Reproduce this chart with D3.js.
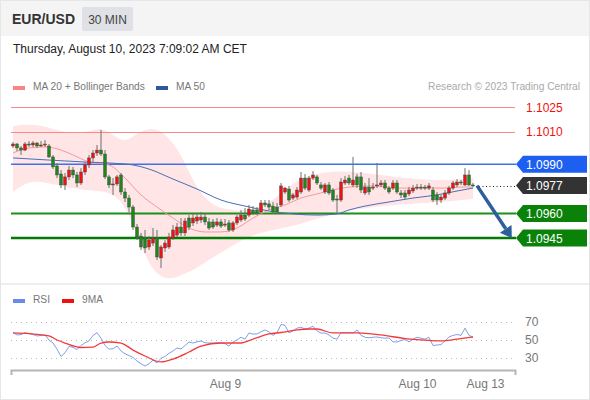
<!DOCTYPE html>
<html>
<head>
<meta charset="utf-8">
<script src="https://cdnjs.cloudflare.com/ajax/libs/d3/7.8.5/d3.min.js"></script>
<style>
  body { margin: 0; background: #fff; }
  svg { font-family: "Liberation Sans", Arial, sans-serif; display: block; }
</style>
</head>
<body>
<svg width="590" height="400"></svg>
<script>
// candles, 30 min, one per index (0 = Aug 8 ~09:30 CET)
var candleOpen = [1.10012,1.10024,1.10000,1.09987,1.10024,1.10018,1.10030,1.10012,1.10018,1.10012,
  1.09945,1.09890,1.09841,1.09774,1.09823,1.09865,1.09835,1.09786,1.09853,1.09896,
  1.09939,1.09969,1.09987,1.09963,1.09823,1.09774,1.09780,1.09835,1.09731,1.09694,
  1.09639,1.09517,1.09462,1.09450,1.09395,1.09419,1.09450,1.09328,1.09389,1.09395,
  1.09450,1.09468,1.09517,1.09481,1.09572,1.09542,1.09554,1.09560,1.09578,1.09548,
  1.09548,1.09529,1.09548,1.09529,1.09542,1.09499,1.09542,1.09560,1.09590,1.09590,
  1.09621,1.09621,1.09609,1.09664,1.09658,1.09645,1.09639,1.09652,1.09731,1.09749,
  1.09694,1.09700,1.09731,1.09816,1.09743,1.09816,1.09823,1.09774,1.09731,1.09774,
  1.09743,1.09688,1.09682,1.09786,1.09816,1.09774,1.09823,1.09823,1.09725,1.09761,
  1.09755,1.09768,1.09774,1.09786,1.09755,1.09755,1.09786,1.09725,1.09725,1.09719,
  1.09737,1.09755,1.09761,1.09761,1.09755,1.09743,1.09713,1.09682,1.09694,1.09725,
  1.09755,1.09774,1.09792,1.09774,1.09835,1.09774]
var candleHigh = [1.10036,1.10030,1.10012,1.10036,1.10042,1.10042,1.10036,1.10042,1.10048,1.10024,
  1.09957,1.09908,1.09865,1.09847,1.09890,1.09884,1.09853,1.09877,1.09914,1.09957,
  1.09987,1.10018,1.10110,1.09987,1.09835,1.09816,1.09835,1.09847,1.09755,1.09713,
  1.09652,1.09535,1.09481,1.09499,1.09462,1.09511,1.09499,1.09407,1.09438,1.09481,
  1.09529,1.09542,1.09572,1.09572,1.09590,1.09597,1.09603,1.09609,1.09597,1.09572,
  1.09566,1.09572,1.09566,1.09566,1.09560,1.09554,1.09590,1.09621,1.09633,1.09652,
  1.09645,1.09639,1.09682,1.09682,1.09682,1.09670,1.09664,1.09786,1.09761,1.09768,
  1.09725,1.09761,1.09853,1.09841,1.09829,1.09859,1.09835,1.09792,1.09786,1.09792,
  1.09755,1.09713,1.09816,1.09829,1.09835,1.09945,1.09841,1.09853,1.09786,1.09816,
  1.09786,1.09908,1.09804,1.09804,1.09768,1.09804,1.09804,1.09743,1.09743,1.09761,
  1.09774,1.09780,1.09780,1.09774,1.09786,1.09761,1.09731,1.09713,1.09743,1.09768,
  1.09798,1.09810,1.09804,1.09877,1.09865,1.09786]
var candleLow = [1.10000,1.09981,1.09957,1.09981,1.10006,1.10006,1.10000,1.10006,1.10006,1.09939,
  1.09871,1.09816,1.09755,1.09743,1.09804,1.09816,1.09761,1.09774,1.09835,1.09877,
  1.09914,1.09951,1.09951,1.09810,1.09755,1.09713,1.09768,1.09713,1.09670,1.09609,
  1.09499,1.09438,1.09377,1.09358,1.09377,1.09401,1.09316,1.09267,1.09365,1.09383,
  1.09438,1.09456,1.09462,1.09462,1.09499,1.09523,1.09535,1.09542,1.09529,1.09499,
  1.09505,1.09517,1.09511,1.09517,1.09487,1.09487,1.09529,1.09548,1.09554,1.09578,
  1.09590,1.09590,1.09597,1.09639,1.09621,1.09597,1.09597,1.09639,1.09719,1.09670,
  1.09682,1.09688,1.09719,1.09743,1.09731,1.09804,1.09774,1.09743,1.09719,1.09713,
  1.09670,1.09603,1.09670,1.09774,1.09774,1.09761,1.09755,1.09725,1.09713,1.09713,
  1.09743,1.09755,1.09761,1.09743,1.09719,1.09743,1.09719,1.09694,1.09688,1.09706,
  1.09725,1.09743,1.09743,1.09743,1.09743,1.09670,1.09652,1.09664,1.09682,1.09713,
  1.09743,1.09761,1.09774,1.09768,1.09768,1.09761]
var candleClose = [1.10024,1.10000,1.09987,1.10024,1.10018,1.10030,1.10012,1.10018,1.10024,1.09945,
  1.09884,1.09835,1.09774,1.09823,1.09865,1.09835,1.09786,1.09853,1.09896,1.09939,
  1.09969,1.09987,1.09963,1.09823,1.09774,1.09780,1.09823,1.09731,1.09694,1.09639,
  1.09517,1.09456,1.09395,1.09389,1.09438,1.09450,1.09334,1.09395,1.09419,1.09456,
  1.09499,1.09517,1.09481,1.09554,1.09517,1.09572,1.09578,1.09578,1.09548,1.09511,
  1.09517,1.09548,1.09523,1.09535,1.09499,1.09542,1.09578,1.09590,1.09566,1.09627,
  1.09603,1.09603,1.09664,1.09652,1.09639,1.09609,1.09609,1.09768,1.09755,1.09682,
  1.09713,1.09743,1.09816,1.09755,1.09816,1.09835,1.09786,1.09755,1.09774,1.09725,
  1.09682,1.09682,1.09792,1.09804,1.09786,1.09804,1.09774,1.09743,1.09761,1.09731,
  1.09761,1.09774,1.09786,1.09755,1.09731,1.09786,1.09731,1.09713,1.09700,1.09743,
  1.09755,1.09761,1.09758,1.09755,1.09768,1.09682,1.09682,1.09700,1.09725,1.09755,
  1.09786,1.09792,1.09786,1.09835,1.09774,1.09768]

// indicator lines, read at these candle indices
var ma20Idx = [0,4,8,12,15,19,24,28,32,36,40,44,48,52,56,60,64,68,72,76,80,84,90,96,102,108,112,115]
var ma20Val = [1.09969,1.10000,1.10006,1.09987,1.09957,1.09914,1.09896,1.09816,1.09713,1.09639,
  1.09572,1.09511,1.09487,1.09487,1.09511,1.09572,1.09621,1.09652,1.09694,1.09719,
  1.09743,1.09761,1.09768,1.09755,1.09755,1.09755,1.09761,1.09761]
var ma50Idx = [0,9,18,24,30,34,40,46,52,58,64,70,76,81,84,88,94,100,106,111,115]
var ma50Val = [1.09939,1.09926,1.09914,1.09908,1.09896,1.09871,1.09810,1.09749,1.09682,1.09645,
  1.09615,1.09597,1.09590,1.09597,1.09621,1.09645,1.09670,1.09694,1.09713,1.09737,1.09755]
var bandIdx = [0,4,9,13,18,22,25,28,31,34,37,40,42,44,46,49,53,58,62,66,70,74,80,86,92,98,104,110,115]
var bandUpper = [1.10134,1.10146,1.10128,1.10091,1.10091,1.10128,1.10079,1.10030,1.10091,1.10122,
  1.10110,1.10030,1.09957,1.09853,1.09755,1.09664,1.09621,1.09615,1.09639,1.09700,
  1.09786,1.09835,1.09859,1.09853,1.09835,1.09816,1.09804,1.09804,1.09816]
var bandLower = [1.09731,1.09804,1.09786,1.09761,1.09743,1.09737,1.09719,1.09652,1.09468,1.09285,
  1.09206,1.09200,1.09224,1.09242,1.09267,1.09316,1.09377,1.09450,1.09481,1.09505,
  1.09523,1.09554,1.09597,1.09627,1.09645,1.09658,1.09664,1.09676,1.09688]

// RSI, one per candle, and its 9 period average read at a few indices
var rsiVal = [58,55.5,56,58,57,56,54.4,55,55.5,50,
  46.7,40,32,36,43,42,39.5,44,47,49,
  55,58,52,44,40,40.5,43.4,38,35,33,
  31,27,24,21.6,24,28,25,30,32,35.5,
  38,41.3,40.2,44,47.8,46.7,48,48.9,47,46.7,
  46.7,47,46.7,46,43.4,48,50,53,51,57.7,
  56.5,56.6,59,61,59,55,58,67,66,57.7,
  60,63,64,62,63,65,60,57.5,57.7,55.5,
  52,51,58,57.7,58,57.7,61,55,53,52.5,
  53,53.3,52.5,52,52.2,48,47.8,49.5,50.5,48,
  51,53,52,51,53,44,44.5,45,49,53.3,
  55,56,55,63,55,53.3]
var rsiMaIdx = [0,4,9,11,13,17,20,22,24,27,30,33,37,40,44,47,52,57,60,64,67,71,74,76,80,86,92,98,104,107,111,115]
var rsiMaVal = [57.7,57,54.4,50,46.7,41.8,42.3,46.7,47.8,46.7,39,32.5,26,29.2,36.9,43.4,
  46.7,46.7,51,56.6,58.2,61,62,62,57.7,57.7,55.5,51.6,49.5,49,51,53.3]
var rsiTicks = [70, 50, 30]

// key levels and x axis labels
var resistLevels = [1.1025, 1.1010]
var pivotLevel = 1.0990
var lastPrice = 1.0977
var supportLevels = [1.0960, 1.0945]
var dayTicks = [53, 101, 118]
var dayLabels = ["Aug 9", "Aug 10", "Aug 13"]

var svg = d3.select("svg")

var xScale = d3.scaleLinear()
    .domain([-0.5, 125.5])
    .range([11, 515])

var yScale = d3.scaleLinear()
    .domain([1.0945, 1.1025])
    .range([238, 107])

var rsiScale = d3.scaleLinear()
    .domain([30, 70])
    .range([358.3, 321.7])

var fmt = d3.format(".4f")

// snap a horizontal line to the pixel grid
var crisp = function (y) {
    return Math.round(y) + 0.5
}

var drawFrame = function () {
    svg.append("rect")
        .attr("x", 0.5).attr("y", 0.5)
        .attr("width", 589).attr("height", 399)
        .attr("fill", "#fff")
        .attr("stroke", "#e6e6e6")
    svg.append("rect")
        .attr("x", 1).attr("y", 1)
        .attr("width", 588).attr("height", 35)
        .attr("fill", "#f4f4f4")
    svg.append("text")
        .text("EUR/USD")
        .attr("x", 12).attr("y", 24)
        .attr("font-size", 14)
        .attr("font-weight", "bold")
        .attr("fill", "#333")
    svg.append("rect")
        .attr("x", 82).attr("y", 7)
        .attr("width", 51).attr("height", 24)
        .attr("rx", 2)
        .attr("fill", "#dfe1e6")
    svg.append("text")
        .text("30 MIN")
        .attr("x", 107.5).attr("y", 24)
        .attr("text-anchor", "middle")
        .attr("font-size", 12)
        .attr("fill", "#444")
    svg.append("text")
        .text("Thursday, August 10, 2023 7:09:02 AM CET")
        .attr("x", 13).attr("y", 53)
        .attr("font-size", 12)
        .attr("fill", "#222")
    // panel separator
    svg.append("rect")
        .attr("x", 1).attr("y", 283)
        .attr("width", 588).attr("height", 2)
        .attr("fill", "#eeeeee")
}

var drawLegend = function (items, y) {
    var g = svg.append("g")
    items.forEach(function (item) {
        g.append("rect")
            .attr("x", item.x).attr("y", y - 4)
            .attr("width", 12).attr("height", 4)
            .attr("fill", item.color)
        g.append("text")
            .text(item.label)
            .attr("x", item.x + 20).attr("y", y)
            .attr("font-size", 10.2)
            .attr("fill", "#777")
    })
}

var drawBands = function () {
    var pts = bandIdx.map(function (d, i) {
        return { i: d, hi: bandUpper[i], lo: bandLower[i] }
    })
    var area = d3.area()
        .x(function (p) { return xScale(p.i) })
        .y0(function (p) { return yScale(p.lo) })
        .y1(function (p) { return yScale(p.hi) })
        .curve(d3.curveBasis)
    svg.append("path")
        .datum(pts)
        .attr("d", area)
        .attr("fill", "#ffe1e1")
        .attr("opacity", 0.85)
}

var drawLevels = function () {
    var g = svg.append("g")
    resistLevels.forEach(function (v) {
        g.append("line")
            .attr("x1", 11).attr("x2", 515)
            .attr("y1", crisp(yScale(v))).attr("y2", crisp(yScale(v)))
            .attr("stroke", "#f88a8a").attr("stroke-width", 1)
        g.append("text")
            .text(fmt(v))
            .attr("x", 526).attr("y", yScale(v) + 4.5)
            .attr("font-size", 12)
            .attr("fill", "#f01010")
    })
    g.append("line")
        .attr("x1", 11).attr("x2", 516)
        .attr("y1", yScale(pivotLevel)).attr("y2", yScale(pivotLevel))
        .attr("stroke", "#3f72e8").attr("stroke-width", 1.5)
    supportLevels.forEach(function (v, i) {
        g.append("line")
            .attr("x1", 11).attr("x2", 516)
            .attr("y1", yScale(v)).attr("y2", yScale(v))
            .attr("stroke", i == 0 ? "#1a8f1a" : "#007d00")
            .attr("stroke-width", i == 0 ? 2 : 2.5)
    })
    g.append("line")
        .attr("x1", xScale(116.5)).attr("x2", 515)
        .attr("y1", crisp(yScale(lastPrice))).attr("y2", crisp(yScale(lastPrice)))
        .attr("stroke", "#222").attr("stroke-width", 1)
        .attr("stroke-dasharray", "1,2.5")
}

var drawTag = function (v, color) {
    var y = yScale(v)
    var tag = svg.append("g")
        .attr("transform", "translate(0," + y + ")")
    tag.append("path")
        .attr("d", "M516,0 L523,-8.5 L587,-8.5 L587,8.5 L523,8.5 Z")
        .attr("fill", color)
    tag.append("text")
        .text(fmt(v))
        .attr("x", 526).attr("y", 4.5)
        .attr("font-size", 12)
        .attr("fill", "#fff")
}

var drawMovingAverages = function () {
    var line = d3.line()
        .x(function (p) { return xScale(p[0]) })
        .y(function (p) { return yScale(p[1]) })
        .curve(d3.curveMonotoneX)
    svg.append("path")
        .datum(ma20Idx.map(function (d, i) { return [d, ma20Val[i]] }))
        .attr("d", line)
        .attr("fill", "none")
        .attr("stroke", "#f59a9a")
        .attr("stroke-width", 1)
    svg.append("path")
        .datum(ma50Idx.map(function (d, i) { return [d, ma50Val[i]] }))
        .attr("d", line)
        .attr("fill", "none")
        .attr("stroke", "#4a6fb8")
        .attr("stroke-width", 1)
}

var drawCandles = function () {
    var data = candleClose.map(function (c, i) {
        return { i: i, o: candleOpen[i], h: candleHigh[i], l: candleLow[i], c: c }
    })
    var g = svg.append("g")
        .selectAll("g")
        .data(data)
        .enter()
        .append("g")
    g.append("line")
        .attr("x1", function (d) { return xScale(d.i) })
        .attr("x2", function (d) { return xScale(d.i) })
        .attr("y1", function (d) { return yScale(d.h) })
        .attr("y2", function (d) { return yScale(d.l) })
        .attr("stroke", "#6e6e6e")
        .attr("stroke-width", 1)
    g.append("rect")
        .attr("x", function (d) { return xScale(d.i) - 1.5 })
        .attr("width", 3)
        .attr("y", function (d) { return yScale(Math.max(d.o, d.c)) })
        .attr("height", function (d) {
            return Math.max(1, Math.abs(yScale(d.o) - yScale(d.c)))
        })
        .attr("fill", function (d) { return d.c >= d.o ? "#e81515" : "#1f861f" })
        .attr("stroke", "#444")
        .attr("stroke-width", 0.4)
}

var drawArrow = function () {
    var x0 = xScale(116), y0 = yScale(lastPrice)
    var x1 = xScale(124.7), y1 = yScale(supportLevels[1])
    var ang = Math.atan2(y1 - y0, x1 - x0)
    var len = 11, wid = 7
    var bx = x1 - len * Math.cos(ang), by = y1 - len * Math.sin(ang)
    svg.append("line")
        .attr("x1", x0).attr("y1", y0)
        .attr("x2", bx).attr("y2", by)
        .attr("stroke", "#2d5e9e")
        .attr("stroke-width", 3.5)
    svg.append("path")
        .attr("d", "M" + x1 + "," + y1 +
            " L" + (bx + wid * Math.sin(ang)) + "," + (by - wid * Math.cos(ang)) +
            " L" + (bx - wid * Math.sin(ang)) + "," + (by + wid * Math.cos(ang)) + " Z")
        .attr("fill", "#2d5e9e")
}

var drawRsi = function () {
    var g = svg.append("g")
    rsiTicks.forEach(function (t) {
        g.append("line")
            .attr("x1", 11).attr("x2", 515)
            .attr("y1", crisp(rsiScale(t))).attr("y2", crisp(rsiScale(t)))
            .attr("stroke", "#b8b8b8")
            .attr("stroke-dasharray", "1,4")
        g.append("text")
            .text(t)
            .attr("x", 525).attr("y", rsiScale(t) + 4)
            .attr("font-size", 12)
            .attr("fill", "#777")
    })
    var rsiLine = d3.line()
        .x(function (v, i) { return xScale(i) })
        .y(function (v) { return rsiScale(v) })
    g.append("path")
        .datum(rsiVal)
        .attr("d", rsiLine)
        .attr("fill", "none")
        .attr("stroke", "#7393e6")
        .attr("stroke-width", 0.9)
    var maLine = d3.line()
        .x(function (p) { return xScale(p[0]) })
        .y(function (p) { return rsiScale(p[1]) })
        .curve(d3.curveMonotoneX)
    g.append("path")
        .datum(rsiMaIdx.map(function (d, i) { return [d, rsiMaVal[i]] }))
        .attr("d", maLine)
        .attr("fill", "none")
        .attr("stroke", "#f23a3a")
        .attr("stroke-width", 1.3)
}

var drawAxis = function () {
    var xAxis = d3.axisBottom(xScale)
        .tickValues(dayTicks)
        .tickFormat(function (d, i) { return dayLabels[i] })
        .tickSize(0)
        .tickSizeOuter(5)
        .tickPadding(9)
    var ax = svg.append("g")
        .attr("transform", "translate(0,370)")
        .call(xAxis)
    ax.select(".domain")
        .attr("stroke", "#b5b5b5")
        .attr("stroke-width", 2)
    ax.selectAll("text")
        .attr("font-size", 12)
        .attr("font-family", "Liberation Sans, Arial, sans-serif")
        .attr("fill", "#777")
}

drawFrame()
drawLegend([
    { x: 13, color: "#f78585", label: "MA 20 + Bollinger Bands" },
    { x: 156, color: "#30599c", label: "MA 50" }
], 90)
svg.append("text")
    .text("Research \u00a9 2023 Trading Central")
    .attr("x", 580).attr("y", 90)
    .attr("text-anchor", "end")
    .attr("font-size", 10.2)
    .attr("fill", "#aaa")
drawBands()
drawLevels()
drawMovingAverages()
drawCandles()
drawTag(pivotLevel, "#1d5ff0")
drawTag(lastPrice, "#333333")
drawTag(supportLevels[0], "#0a820a")
drawTag(supportLevels[1], "#0a820a")
drawArrow()
drawLegend([
    { x: 13, color: "#6a8ce8", label: "RSI" },
    { x: 62, color: "#ee1111", label: "9MA" }
], 303)
drawRsi()
drawAxis()
</script>
</body>
</html>
